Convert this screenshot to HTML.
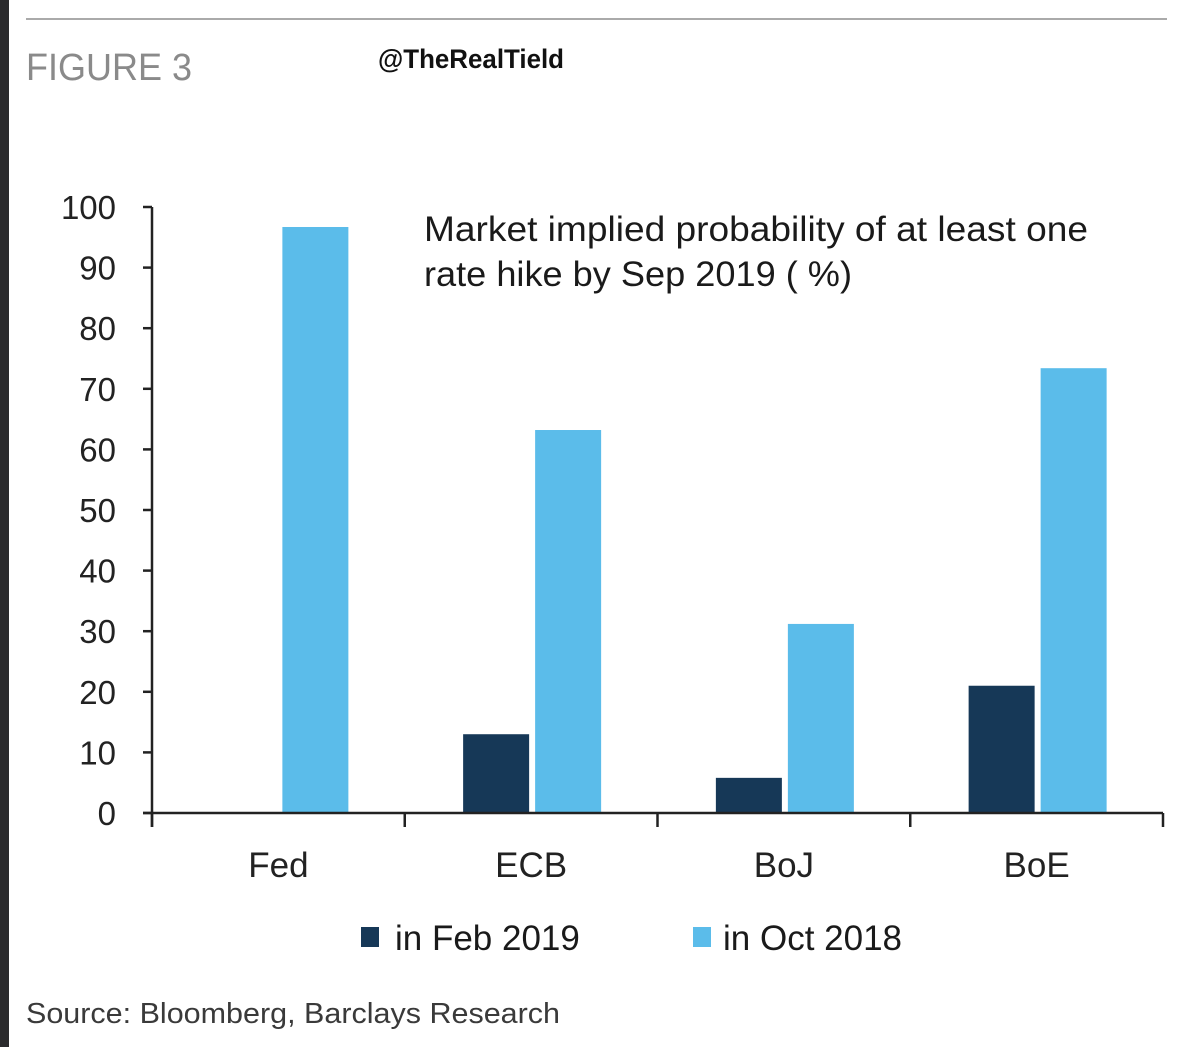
<!DOCTYPE html>
<html><head><meta charset="utf-8"><style>
html,body{margin:0;padding:0;background:#fff;}
body{width:1200px;height:1047px;overflow:hidden;position:relative;font-family:"Liberation Sans",sans-serif;}
svg text{font-family:"Liberation Sans",sans-serif;}
</style></head><body>
<svg id="chart" width="1200" height="1047" xmlns="http://www.w3.org/2000/svg">
<rect x="0" y="0" width="9" height="1047" fill="#2b2b2d"/>
<line x1="26" y1="19" x2="1167" y2="19" stroke="#aaa" stroke-width="2"/>
<text x="26" y="80" font-size="38" fill="#8a8a8a" textLength="166" lengthAdjust="spacingAndGlyphs">FIGURE 3</text>
<text x="378" y="68" font-size="27" font-weight="bold" fill="#111" textLength="186" lengthAdjust="spacingAndGlyphs">@TheRealTield</text>
<text x="424" y="241" font-size="35" fill="#1a1a1a" textLength="664" lengthAdjust="spacingAndGlyphs">Market implied probability of at least one</text>
<text x="424" y="286" font-size="35" fill="#1a1a1a" textLength="428" lengthAdjust="spacingAndGlyphs">rate hike by Sep 2019 ( %)</text>
<g id="plot"></g>
<rect x="361" y="927" width="18" height="20" fill="#163857"/>
<text x="395" y="950" font-size="35" fill="#1a1a1a">in Feb 2019</text>
<rect x="693" y="927" width="18" height="20" fill="#5bbcea"/>
<text x="723" y="950" font-size="35" fill="#1a1a1a">in Oct 2018</text>
<text x="26" y="1023" font-size="29" fill="#3a3a3a" textLength="534" lengthAdjust="spacingAndGlyphs">Source: Bloomberg, Barclays Research</text>
</svg>
<script>
const categories = ["Fed","ECB","BoJ","BoE"];
const febValues = [0, 13, 5.8, 21];
const octValues = [96.7, 63.2, 31.2, 73.4];
const yTicks = [0,10,20,30,40,50,60,70,80,90,100];

const NS="http://www.w3.org/2000/svg";
const g=document.getElementById('plot');
const x0=152,x1=1163,yBase=813,yTop=207;
const y=v=>yBase-(v/100)*(yBase-yTop);
const bandW=(x1-x0)/categories.length;
const cx=i=>x0+bandW*(i+0.5);
function mk(tag,attrs){const e=document.createElementNS(NS,tag);for(const k in attrs)e.setAttribute(k,attrs[k]);g.appendChild(e);return e;}

yTicks.forEach(t=>{
  const l=mk('line',{x1:143,x2:x0,y1:y(t),y2:y(t),stroke:'#222','stroke-width':2.5});
  
  
  const tx=mk('text',{x:116,y:y(t)+12,'font-size':33,fill:'#222','text-anchor':'end'});
  tx.textContent=t;
  
  
});
categories.forEach((c,i)=>{
  const bw=66;
  const hf=yBase-y(febValues[i]);
  const bf=mk('rect',{x:cx(i)-bw-2,y:y(febValues[i]),width:bw,height:hf,fill:'#163857'});
  
  
  const ho=yBase-y(octValues[i]);
  const bo=mk('rect',{x:cx(i)+4,y:y(octValues[i]),width:bw,height:ho,fill:'#5bbcea'});
  
  
  const lb=mk('text',{x:cx(i),y:877,'font-size':35,fill:'#222','text-anchor':'middle'});
  lb.textContent=c;
  
  
});
for(let i=0;i<=categories.length;i++){
  const xx=x0+bandW*i;
  const t=mk('line',{x1:xx,x2:xx,y1:yBase,y2:827,stroke:'#222','stroke-width':2.5});
  
  
}
const ya=mk('line',{x1:x0,x2:x0,y1:yTop,y2:827,stroke:'#222','stroke-width':2.5});


const xa=mk('line',{x1:143,x2:x1,y1:yBase,y2:yBase,stroke:'#222','stroke-width':2.5});


</script>
</body></html>
